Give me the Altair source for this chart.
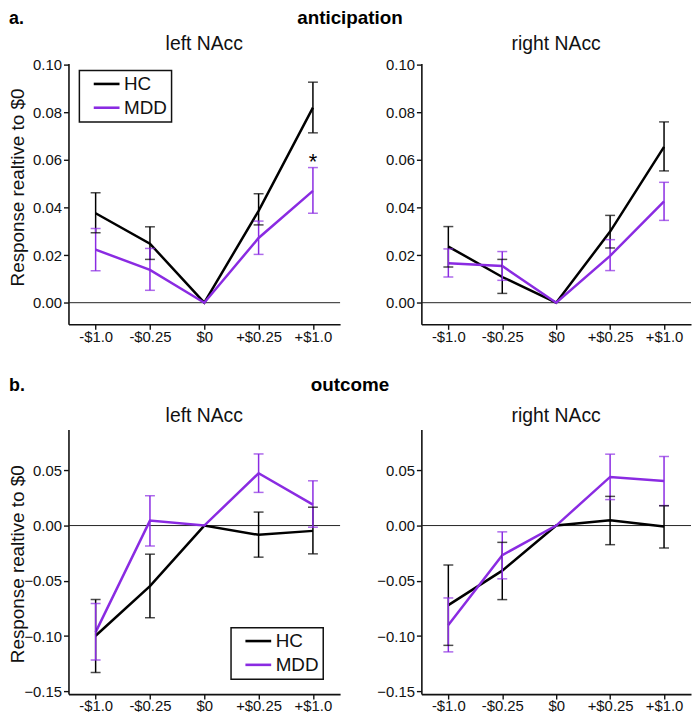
import altair as alt
import pandas as pd

cats = ["-$1.0", "-$0.25", "$0", "+$0.25", "+$1.0"]
groups = ["HC", "MDD"]

# a. anticipation, left NAcc
ant_l_hc = [0.0376, 0.0248, 0.0, 0.0386, 0.0820]
ant_l_hc_lo = [0.0294, 0.0182, None, 0.0327, 0.0714]
ant_l_hc_hi = [0.0462, 0.0319, None, 0.0458, 0.0927]
ant_l_mdd = [0.0223, 0.0138, 0.0, 0.0272, 0.0470]
ant_l_mdd_lo = [0.0134, 0.0052, None, 0.0203, 0.0376]
ant_l_mdd_hi = [0.0312, 0.0228, None, 0.0343, 0.0568]

# a. anticipation, right NAcc
ant_r_hc = [0.0236, 0.0108, 0.0, 0.0299, 0.0655]
ant_r_hc_lo = [0.0150, 0.0039, None, 0.0230, 0.0554]
ant_r_hc_hi = [0.0320, 0.0182, None, 0.0367, 0.0760]
ant_r_mdd = [0.0166, 0.0154, 0.0, 0.0197, 0.0426]
ant_r_mdd_lo = [0.0108, 0.0094, None, 0.0135, 0.0346]
ant_r_mdd_hi = [0.0226, 0.0215, None, 0.0265, 0.0506]

# b. outcome, left NAcc
out_l_hc = [-0.0997, -0.0548, 0.0, -0.0084, -0.0048]
out_l_hc_lo = [-0.1330, -0.0834, None, -0.0286, -0.0256]
out_l_hc_hi = [-0.0670, -0.0259, None, 0.0122, 0.0166]
out_l_mdd = [-0.0964, 0.0045, 0.0, 0.0473, 0.0190]
out_l_mdd_lo = [-0.1217, -0.0185, None, 0.0300, -0.0015]
out_l_mdd_hi = [-0.0705, 0.0270, None, 0.0648, 0.0405]

# b. outcome, right NAcc
out_r_hc = [-0.0720, -0.0408, 0.0, 0.0047, -0.0009]
out_r_hc_lo = [-0.1084, -0.0670, None, -0.0173, -0.0203]
out_r_hc_hi = [-0.0357, -0.0152, None, 0.0264, 0.0179]
out_r_mdd = [-0.0899, -0.0268, 0.0, 0.0440, 0.0404]
out_r_mdd_lo = [-0.1143, -0.0482, None, 0.0235, 0.0181]
out_r_mdd_hi = [-0.0655, -0.0057, None, 0.0646, 0.0625]

ant_ticks = [0.0, 0.02, 0.04, 0.06, 0.08, 0.10]
out_ticks = [-0.15, -0.10, -0.05, 0.0, 0.05]
ant_domain = [-0.0091, 0.1005]
out_domain = [-0.1525, 0.087]

star_cond = ["+$1.0"]
star_val = [0.0614]

FONT = "Liberation Sans, Arial, Helvetica, sans-serif"
PURPLE = "#8a2be2"
YTITLE = "Response realtive to $0"


def make_df(hc, hc_lo, hc_hi, mdd, mdd_lo, mdd_hi):
    rows = []
    for g, m, lo, hi in [("HC", hc, hc_lo, hc_hi), ("MDD", mdd, mdd_lo, mdd_hi)]:
        for c, a, b, d in zip(cats, m, lo, hi):
            rows.append({"cond": c, "group": g, "mean": a, "lo": b, "hi": d})
    return pd.DataFrame(rows)


def panel(df, w, h, ydom, yticks, title, title_dy, ytitle_y=None,
          legend_xy=None, section=None, star=False):
    xenc = alt.X("cond:N", sort=cats,
                 scale=alt.Scale(type="point", padding=0.5),
                 axis=alt.Axis(title=None, labelAngle=0))
    yscale = alt.Scale(domain=ydom, nice=False, zero=False)
    if ytitle_y is not None:
        yaxis = alt.Axis(values=yticks, format=".2f", title=YTITLE,
                         titleX=-41, titleY=ytitle_y, titleAngle=270,
                         titleBaseline="bottom", titleAlign="center")
    else:
        yaxis = alt.Axis(values=yticks, format=".2f", title=None)

    if legend_xy is not None:
        leg = alt.Legend(orient="none", legendX=legend_xy[0],
                         legendY=legend_xy[1], title=None)
    else:
        leg = None
    cscale = alt.Scale(domain=groups, range=["#000000", PURPLE])
    color_line = alt.Color("group:N", scale=cscale, legend=leg)
    color_nol = alt.Color("group:N", scale=cscale, legend=None)

    base = alt.Chart(df)
    zero = alt.Chart(pd.DataFrame({"z": [0.0]})).mark_rule(
        color="#222222", strokeWidth=1).encode(
        y=alt.Y("z:Q", scale=yscale, axis=yaxis))
    lines = base.mark_line(strokeWidth=2.5).encode(
        x=xenc, y=alt.Y("mean:Q", scale=yscale, axis=yaxis), color=color_line)
    errs = base.transform_filter("isValid(datum.lo)")
    bars = errs.mark_rule(strokeWidth=1.5).encode(
        x=xenc, y=alt.Y("lo:Q", scale=yscale, axis=yaxis), y2="hi:Q",
        color=color_nol)
    cap_lo = errs.mark_tick(orient="horizontal", size=10, thickness=1.5).encode(
        x=xenc, y=alt.Y("lo:Q", scale=yscale, axis=yaxis), color=color_nol)
    cap_hi = errs.mark_tick(orient="horizontal", size=10, thickness=1.5).encode(
        x=xenc, y=alt.Y("hi:Q", scale=yscale, axis=yaxis), color=color_nol)
    ttl = alt.Chart(pd.DataFrame({"t": [title]})).mark_text(
        fontSize=19.5, font=FONT, align="center", baseline="alphabetic",
        color="#111111").encode(text="t:N", x=alt.value(w / 2),
                                y=alt.value(title_dy))
    layers = [zero, lines, bars, cap_lo, cap_hi, ttl]
    if section is not None:
        letter, name, sdy = section
        lt = alt.Chart(pd.DataFrame({"t": [letter]})).mark_text(
            fontSize=18, font=FONT, fontWeight="bold", align="left",
            baseline="alphabetic", color="#000000").encode(
            text="t:N", x=alt.value(-60), y=alt.value(sdy))
        nm = alt.Chart(pd.DataFrame({"t": [name]})).mark_text(
            fontSize=19, font=FONT, fontWeight="bold", align="center",
            baseline="alphabetic", color="#000000").encode(
            text="t:N", x=alt.value(284), y=alt.value(sdy))
        layers += [lt, nm]
    if star:
        sdf = pd.DataFrame({"cond": star_cond, "v": star_val, "s": ["*"]})
        st = alt.Chart(sdf).mark_text(fontSize=22, font=FONT, dy=12,
                                      baseline="alphabetic",
                                      color="#000000").encode(
            x=xenc, y=alt.Y("v:Q", scale=yscale, axis=yaxis), text="s:N")
        layers.append(st)
    return alt.layer(*layers).properties(width=w, height=h)


LW, RW = 274, 272
TH, BH = 263, 267

p1 = panel(make_df(ant_l_hc, ant_l_hc_lo, ant_l_hc_hi, ant_l_mdd, ant_l_mdd_lo, ant_l_mdd_hi),
           LW, TH, ant_domain, ant_ticks, "left NAcc", -14, ytitle_y=124.5,
           legend_xy=(11, 7), section=("a.", "anticipation", -40), star=True)
p2 = panel(make_df(ant_r_hc, ant_r_hc_lo, ant_r_hc_hi, ant_r_mdd, ant_r_mdd_lo, ant_r_mdd_hi),
           RW, TH, ant_domain, ant_ticks, "right NAcc", -14)
p3 = panel(make_df(out_l_hc, out_l_hc_lo, out_l_hc_hi, out_l_mdd, out_l_mdd_lo, out_l_mdd_hi),
           LW, BH, out_domain, out_ticks, "left NAcc", -7, ytitle_y=135.5,
           legend_xy=(164, 200), section=("b.", "outcome", -39))
p4 = panel(make_df(out_r_hc, out_r_hc_lo, out_r_hc_hi, out_r_mdd, out_r_mdd_lo, out_r_mdd_hi),
           RW, BH, out_domain, out_ticks, "right NAcc", -7)

chart = alt.concat(
    p1, p2, p3, p4, columns=2, bounds="flush",
    spacing={"row": 106, "column": 82},
).resolve_scale(color="independent").resolve_legend(
    color="independent").properties(
    padding={"left": 0, "top": -2, "right": 0, "bottom": 0},
    background="white",
).configure(font=FONT).configure_view(stroke=None).configure_axis(
    domainColor="#111111", domainWidth=1.6, tickColor="#111111",
    tickWidth=1.4, tickSize=5, grid=False, labelFont=FONT,
    labelFontSize=15, labelColor="#111111", titleFont=FONT,
    titleFontSize=19, titleFontWeight="normal", titleColor="#111111",
).configure_axisX(labelPadding=0).configure_axisY(labelPadding=2
).configure_legend(
    labelFont=FONT, labelFontSize=19, labelColor="#111111",
    symbolType="M-2.6,0H2.6", symbolSize=100, symbolStrokeWidth=2.6,
    padding=4, symbolOffset=14, labelOffset=8, rowPadding=4,
    strokeColor="#111111", strokeWidth=1.5, fillColor="white",
    cornerRadius=0,
)

chart.save("out.html", embed_options={"renderer": "svg", "actions": False})
